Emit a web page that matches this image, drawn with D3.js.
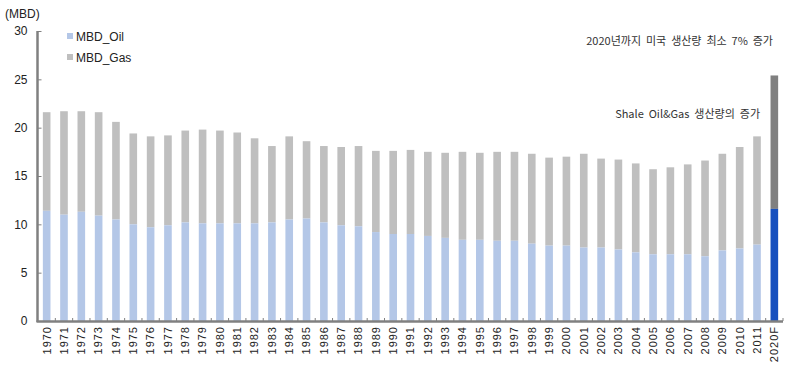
<!DOCTYPE html>
<html>
<head>
<meta charset="utf-8">
<script src="https://cdn.jsdelivr.net/npm/d3@7"></script>
<style>
  body { margin: 0; background: #fff; }
  text { font-family: "Liberation Sans", Arial, "Noto Sans CJK KR", sans-serif; fill: #222; }
  .kr { font-family: "Noto Sans CJK KR", "Liberation Sans", sans-serif; white-space: pre; fill: #333; }
</style>
</head>
<body>
<div id="chart"></div>
<script>
// data
const years = ["1970","1971","1972","1973","1974","1975","1976","1977","1978","1979",
  "1980","1981","1982","1983","1984","1985","1986","1987","1988","1989",
  "1990","1991","1992","1993","1994","1995","1996","1997","1998","1999",
  "2000","2001","2002","2003","2004","2005","2006","2007","2008","2009",
  "2010","2011","2020F"];
const oilValues = [11.4, 11.0, 11.3, 10.9, 10.5, 10.0, 9.7, 9.9, 10.2, 10.1,
  10.1, 10.1, 10.1, 10.2, 10.5, 10.6, 10.2, 9.9, 9.8, 9.2,
  9.0, 9.0, 8.8, 8.6, 8.4, 8.4, 8.3, 8.3, 8.0, 7.8,
  7.8, 7.6, 7.6, 7.4, 7.1, 6.9, 6.9, 6.9, 6.7, 7.3,
  7.5, 7.9, 11.6];
const totalValues = [21.6, 21.7, 21.7, 21.6, 20.6, 19.4, 19.1, 19.2, 19.7, 19.8,
  19.7, 19.5, 18.9, 18.1, 19.1, 18.6, 18.1, 18.0, 18.1, 17.6,
  17.6, 17.7, 17.5, 17.4, 17.5, 17.4, 17.5, 17.5, 17.3, 16.9,
  17.0, 17.3, 16.8, 16.7, 16.3, 15.7, 15.9, 16.2, 16.6, 17.3,
  18.0, 19.1, 25.4];
const yTicks = [0, 5, 10, 15, 20, 25, 30];
const seriesNames = ["MBD_Oil", "MBD_Gas"];

const width = 795, height = 372;
const svg = d3.select("#chart").append("svg")
  .attr("width", width)
  .attr("height", height);

// scales
const xScale = d3.scaleBand()
  .domain(years)
  .range([38, 783])
  .paddingInner(0.56)
  .paddingOuter(0.28);

const yScale = d3.scaleLinear().domain([0, 30]).range([321, 31]);

const colors = {
  oil: "#b4c7e7", gas: "#bfbfbf",
  oilF: "#1650be", gasF: "#808080"
};

const rows = years.map((y, i) => ({ year: y, oil: oilValues[i], total: totalValues[i] }));

// gas part (oil to total)
svg.append("g").selectAll("rect")
  .data(rows)
  .enter()
  .append("rect")
  .attr("x", (d) => xScale(d.year))
  .attr("width", xScale.bandwidth())
  .attr("y", (d) => yScale(d.total))
  .attr("height", (d) => yScale(d.oil) - yScale(d.total))
  .attr("fill", (d) => (d.year === "2020F" ? colors.gasF : colors.gas));

// oil part
svg.append("g").selectAll("rect")
  .data(rows)
  .enter()
  .append("rect")
  .attr("x", (d) => xScale(d.year))
  .attr("width", xScale.bandwidth())
  .attr("y", (d) => yScale(d.oil))
  .attr("height", (d) => yScale(0) - yScale(d.oil))
  .attr("fill", (d) => (d.year === "2020F" ? colors.oilF : colors.oil));

// y axis
const yAxis = d3.axisLeft(yScale).tickValues(yTicks).tickSize(0).tickPadding(10);
const yG = svg.append("g")
  .attr("transform", "translate(37.5,0)")
  .call(yAxis);
yG.select(".domain").remove();
yG.selectAll("text")
  .style("font-size", "12px")
  .attr("fill", "#222");
// inward ticks
yG.selectAll(".tick").append("line")
  .attr("x1", 0).attr("x2", 4)
  .attr("stroke", "#808080").attr("stroke-width", 1);
svg.append("line")
  .attr("x1", 37.5).attr("x2", 37.5)
  .attr("y1", yScale(30)).attr("y2", yScale(0) + 1)
  .attr("stroke", "#808080").attr("stroke-width", 2.5);

// x axis
const xAxis = d3.axisBottom(xScale).tickSize(0).tickPadding(5);
const xG = svg.append("g")
  .attr("transform", `translate(0, ${yScale(0)})`)
  .call(xAxis);
xG.select(".domain").remove();
xG.selectAll("text")
  .style("font-size", "11px")
  .style("letter-spacing", "1px")
  .attr("text-anchor", "end")
  .attr("dy", "0.35em")
  .attr("transform", "rotate(-90)")
  .attr("x", -5)
  .attr("y", 0)
  .attr("fill", "#333");

// tick marks between bars
const step = xScale.step();
const boundaries = d3.range(1, years.length + 1).map((k) => 38 + k * step);
svg.append("g").selectAll("line")
  .data(boundaries)
  .enter()
  .append("line")
  .attr("x1", (d) => d).attr("x2", (d) => d)
  .attr("y1", yScale(0) - 3).attr("y2", yScale(0))
  .attr("stroke", "#808080").attr("stroke-width", 1);
svg.append("line")
  .attr("x1", 36.5).attr("x2", 783)
  .attr("y1", yScale(0) + 0.5).attr("y2", yScale(0) + 0.5)
  .attr("stroke", "#808080").attr("stroke-width", 2.5);

// unit label
svg.append("text")
  .attr("x", 5).attr("y", 18)
  .style("font-size", "12px")
  .text("(MBD)");

// legend
const legend = svg.append("g").attr("transform", "translate(67,33)");
seriesNames.forEach((name, i) => {
  legend.append("rect")
    .attr("x", 0).attr("y", i * 21)
    .attr("width", 6).attr("height", 6)
    .attr("fill", i === 0 ? colors.oil : colors.gas);
  legend.append("text")
    .attr("x", 9).attr("y", i * 21 + 8)
    .style("font-size", "12px")
    .text(name);
});

// annotations
svg.append("text")
  .attr("class", "kr")
  .attr("x", 773).attr("y", 45)
  .attr("text-anchor", "end")
  .style("font-size", "11px")
  .text("2020년까지  미국  생산량  최소  7%  증가");

svg.append("text")
  .attr("class", "kr")
  .attr("x", 760).attr("y", 118)
  .attr("text-anchor", "end")
  .style("font-size", "11px")
  .text("Shale  Oil&Gas  생산량의  증가");
</script>
</body>
</html>
